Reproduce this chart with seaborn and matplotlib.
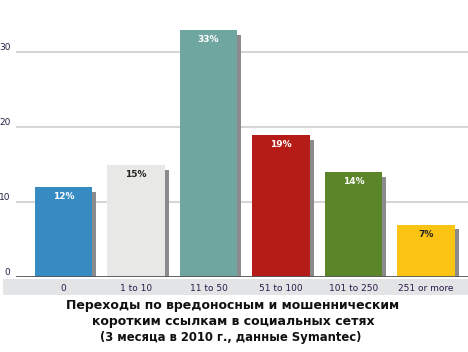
import matplotlib
matplotlib.use("Agg")
import matplotlib.pyplot as plt
import seaborn as sns
import numpy as np
import pandas as pd
from matplotlib.patches import Rectangle

categories = ["0", "1 to 10", "11 to 50", "51 to 100", "101 to 250", "251 or more"]
values = [12, 15, 33, 19, 14, 7]
labels = ["12%", "15%", "33%", "19%", "14%", "7%"]
colors = ["#378bc3", "#e8e9e6", "#6fa7a0", "#b51c17", "#5b8528", "#fcc412"]
label_colors = ["white", "#222222", "white", "white", "white", "#222222"]
yticks = [0, 10, 20, 30]
title_lines = ["Переходы по вредоносным и мошенническим",
               "коротким ссылкам в социальных сетях"]
subtitle = "(3 месяца в 2010 г., данные Symantec)"

sns.set_theme(style="white")
plt.rcParams['font.family'] = ['DejaVu Sans']

W, H = 468, 352
fig = plt.figure(figsize=(W / 100, H / 100), dpi=100)
fig.patch.set_facecolor("white")

ax = fig.add_axes([16 / W, (H - 277) / H, 1 - 16 / W, 277 / H])
ax.set_facecolor("none")

# tick label band
ax.add_patch(Rectangle((3 / W, (H - 295) / H), (W - 3) / W, 16 / H,
                       transform=fig.transFigure, facecolor="#e3e4e6",
                       edgecolor="none", zorder=0.5, clip_on=False))

df = pd.DataFrame({"cat": categories, "val": values})
x = np.arange(len(categories))

# shadows
ax.bar(x + 0.06, np.array(values) - 0.65, width=0.79, bottom=0,
       color="#8b8b8d", zorder=1, linewidth=0)

sns.barplot(data=df, x="cat", y="val", hue="cat", palette=colors, legend=False,
            width=0.79, ax=ax, zorder=2, saturation=1, linewidth=0)

for i, (v, lab, c) in enumerate(zip(values, labels, label_colors)):
    ax.text(i, v - 1.3, lab, ha="center", va="center", fontsize=6.5,
            fontweight="bold", color=c, zorder=3)

for yv in [10, 20, 30]:
    ax.axhline(yv, color="#d6d6d8", lw=1.5, zorder=0)
ax.axhline(0, color="#555558", lw=2, zorder=4)

ax.set_xlim(-0.655, 5.58)
ax.set_ylim(0, 37)
ax.set_yticks(yticks)
ax.set_yticklabels([str(t) for t in yticks], fontsize=6.5, color="#222244")
ax.tick_params(axis="y", length=0, pad=4)
ax.tick_params(axis="x", length=0, pad=5)
ax.set_xticks(x)
ax.set_xticklabels(categories, fontsize=6.5, color="#2a1a4a")
for lab in ax.get_yticklabels():
    lab.set_verticalalignment("bottom")
ax.set_xlabel("")
ax.set_ylabel("")
for s in ax.spines.values():
    s.set_visible(False)

fig.text(233 / W, 1 - 305 / H, title_lines[0], ha="center", va="center",
         fontsize=9, fontweight="bold", color="#111111")
fig.text(233 / W, 1 - 322 / H, title_lines[1], ha="center", va="center",
         fontsize=9, fontweight="bold", color="#111111")
fig.text(231 / W, 1 - 337 / H, subtitle, ha="center", va="center",
         fontsize=8.4, fontweight="bold", color="#111111")

fig.savefig("out.png", dpi=100, facecolor="white")
